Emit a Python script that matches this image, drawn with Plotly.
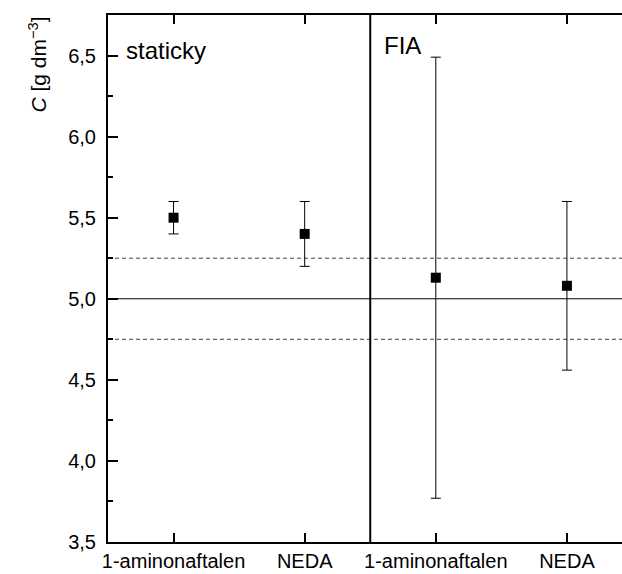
import plotly.graph_objects as go

categories = ["1-aminonaftalen", "NEDA", "1-aminonaftalen", "NEDA"]
positions = [1, 2, 3, 4]
values = [5.50, 5.40, 5.13, 5.08]
errors = [0.10, 0.20, 1.36, 0.52]
ref_value = 5.0
ref_band = [4.75, 5.25]
y_ticks = [3.5, 4.0, 4.5, 5.0, 5.5, 6.0, 6.5]

FONT = "Liberation Sans, Arial, sans-serif"

fig = go.Figure()
fig.add_trace(go.Scatter(
    x=positions, y=values, mode="markers",
    marker=dict(symbol="square", size=10, color="black"),
    error_y=dict(type="data", array=errors, visible=True, color="black",
                 thickness=1, width=5),
    showlegend=False, cliponaxis=False,
))

# reference lines
fig.add_shape(type="line", xref="paper", x0=0, x1=1, yref="y", y0=ref_value, y1=ref_value,
              line=dict(color="black", width=1), layer="below")
for yv in ref_band:
    fig.add_shape(type="line", xref="paper", x0=0, x1=1, yref="y", y0=yv, y1=yv,
                  line=dict(color="#444444", width=1, dash="4px,3px"), layer="below")
# divider
fig.add_shape(type="line", xref="x", x0=2.5, x1=2.5, yref="paper", y0=0, y1=1,
              line=dict(color="black", width=2))

fig.add_annotation(x=0.62, y=6.53, xref="x", yref="y", text="staticky", showarrow=False,
                   xanchor="left", yanchor="middle", font=dict(family=FONT, size=24, color="black"))
fig.add_annotation(x=2.59, y=6.56, xref="x", yref="y", text="FIA", showarrow=False,
                   xanchor="left", yanchor="middle", font=dict(family=FONT, size=24, color="black"))
fig.add_annotation(x=-0.137, y=1.0, xref="paper", yref="paper",
                   text="<i>C</i> [g dm<sup>−3</sup>]", textangle=-90, showarrow=False,
                   xanchor="center", yanchor="top", font=dict(family=FONT, size=21, color="black"))

fig.update_layout(
    width=622, height=574,
    margin=dict(l=108, r=0, t=15, b=32),
    paper_bgcolor="white", plot_bgcolor="white",
    separators=",.",
    font=dict(family=FONT, size=20, color="black"),
)
fig.update_xaxes(
    range=[0.5, 4.42], tickvals=positions, ticktext=categories,
    showline=True, linecolor="black", linewidth=2, mirror="ticks",
    ticks="inside", ticklen=9, tickwidth=1.5, tickcolor="black",
    showgrid=False, zeroline=False,
)
fig.update_yaxes(
    range=[3.5, 6.75], tickvals=y_ticks, tickformat=".1f",
    showline=True, linecolor="black", linewidth=2, mirror=False,
    ticks="inside", ticklen=10, tickwidth=1.5, tickcolor="black",
    ticklabelstandoff=6,
    minor=dict(ticks="inside", ticklen=5, dtick=0.25, tickcolor="black", tickwidth=1.5),
    showgrid=False, zeroline=False,
)

fig.write_html("out.html")
